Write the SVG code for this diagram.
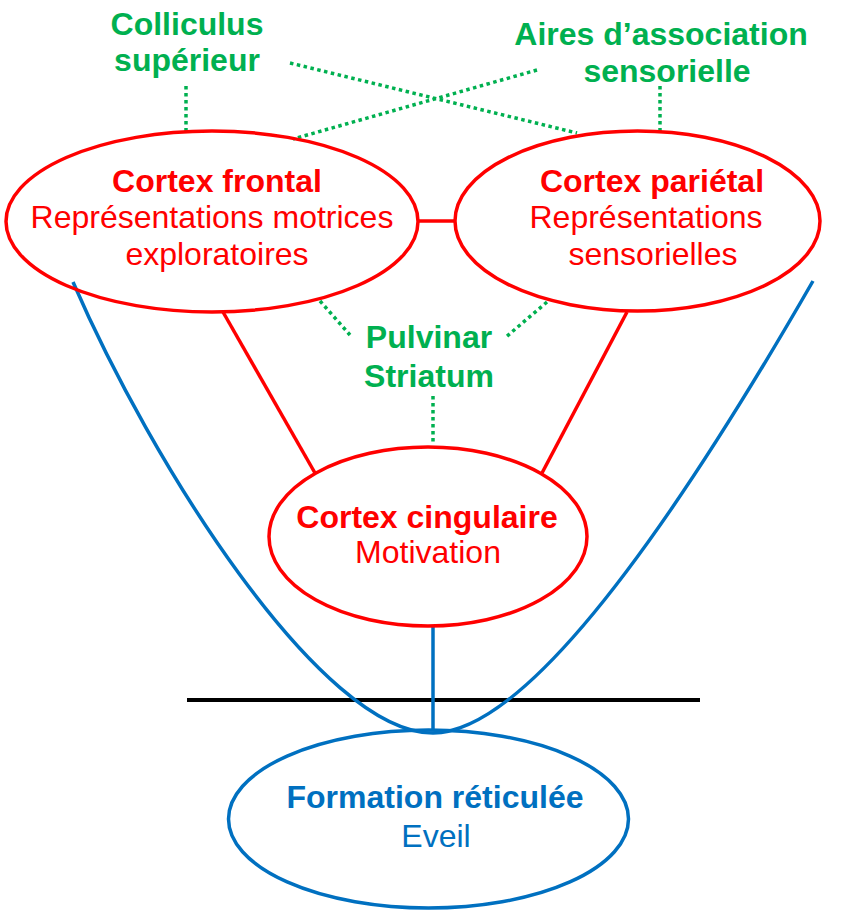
<svg xmlns="http://www.w3.org/2000/svg" width="850" height="910" viewBox="0 0 850 910">
<style>
text{font-family:"Liberation Sans",Arial,sans-serif;font-size:32px;text-anchor:middle}
.b{font-weight:bold}
.red{fill:#FF0000}
.grn{fill:#00B050}
.blu{fill:#0070C0}
.re{fill:none;stroke:#FF0000;stroke-width:3.5}
.be{fill:none;stroke:#0070C0;stroke-width:3.5}
.rl{stroke:#FF0000;stroke-width:3.5;fill:none}
.bl{stroke:#0070C0;stroke-width:3.5;fill:none}
.gd{stroke:#00B050;stroke-width:3.5;stroke-dasharray:3.5 3.5;fill:none}
</style>
<rect width="850" height="910" fill="#fff"/>
<g id="connectors">
<line x1="187" y1="700" x2="700" y2="700" stroke="#000" stroke-width="4"/>
<path class="bl" d="M73,282 C150,460 320,733 433,733"/>
<path class="bl" d="M813,281 C710,460 540,733 433,733"/>
<line class="bl" x1="433" y1="626" x2="433" y2="731"/>
<line class="rl" x1="418" y1="221" x2="455" y2="221"/>
<line class="rl" x1="223" y1="312" x2="315" y2="473"/>
<line class="rl" x1="627" y1="312" x2="542" y2="473"/>
<line class="gd" x1="186" y1="86" x2="186" y2="131"/>
<line class="gd" x1="660" y1="86" x2="660" y2="131"/>
<line class="gd" x1="290" y1="63" x2="577" y2="133"/>
<line class="gd" x1="537" y1="70" x2="293" y2="139"/>
<line class="gd" x1="320" y1="301" x2="350" y2="335"/>
<line class="gd" x1="547" y1="302" x2="506" y2="337"/>
<line class="gd" x1="433" y1="396" x2="433" y2="442"/>
</g>
<g id="colliculus">
<text class="b grn" x="187" y="35">Colliculus</text>
<text class="b grn" x="187" y="71">supérieur</text>
</g>
<g id="aires">
<text class="b grn" x="661" y="45">Aires d’association</text>
<text class="b grn" x="667" y="82">sensorielle</text>
</g>
<g id="frontal">
<ellipse class="re" cx="212" cy="221.5" rx="206" ry="90.5"/>
<text class="b red" x="217" y="192">Cortex frontal</text>
<text class="red" x="212" y="228">Représentations motrices</text>
<text class="red" x="217" y="265">exploratoires</text>
</g>
<g id="parietal">
<ellipse class="re" cx="637.5" cy="221" rx="182.5" ry="90"/>
<text class="b red" x="652" y="192">Cortex pariétal</text>
<text class="red" x="646" y="228">Représentations</text>
<text class="red" x="653" y="265">sensorielles</text>
</g>
<g id="pulvinar">
<text class="b grn" x="429" y="348">Pulvinar</text>
<text class="b grn" x="429" y="387">Striatum</text>
</g>
<g id="cingulaire">
<ellipse class="re" cx="428" cy="536.5" rx="159" ry="89.5"/>
<text class="b red" x="427" y="528">Cortex cingulaire</text>
<text class="red" x="428" y="563">Motivation</text>
</g>
<g id="formation">
<ellipse class="be" cx="428.5" cy="819" rx="200" ry="89"/>
<text class="b blu" x="435" y="808">Formation réticulée</text>
<text class="blu" x="436" y="847">Eveil</text>
</g>
</svg>
